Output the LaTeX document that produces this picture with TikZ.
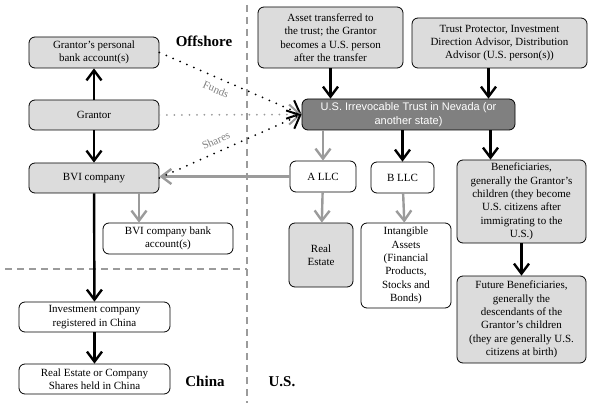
\documentclass[tikz,border=0pt]{standalone}
\usepackage{xcolor}
\usepackage{fontspec}
\setmainfont{Liberation Serif}
\newfontfamily\trustfont{Liberation Sans}
\usetikzlibrary{arrows.meta}
\definecolor{boxgray}{RGB}{220,220,220}
\definecolor{trustgray}{RGB}{128,128,128}
\definecolor{linegray}{RGB}{155,155,155}

\tikzset{
  box/.style={draw=black, line width=0.8pt, rounded corners=6pt, fill=boxgray, align=center, inner sep=2pt, font=\fontsize{11}{13.4}\selectfont},
  whitebox/.style={box, fill=white},
  trustbox/.style={box, fill=trustgray, text=white, font=\trustfont\fontsize{11}{13.4}\selectfont},
  region/.style={font=\bfseries\fontsize{15}{17}\selectfont},
  blackarrow/.style={draw=black, line width=2.4pt, -{Straight Barb[length=10pt,width=15pt]}},
  grayarrow/.style={blackarrow, draw=linegray},
  dotarrow/.style={draw=black, line width=2pt, dash pattern=on 0pt off 7.5pt, line cap=round, -{Straight Barb[length=11pt,width=20pt]}},
  flowlabel/.style={text=gray, font=\fontsize{11}{13}\selectfont, sloped},
  divider/.style={draw=linegray, line width=2pt, dash pattern=on 7pt off 5pt}
}

\begin{document}
\begin{tikzpicture}[x=1pt, y=-1pt]
\useasboundingbox (0,0) rectangle (593,403);

% region borders
\draw[divider] (247,5) -- (247,403);
\draw[divider] (5,269) -- (247,269);
\node[region] (offshore) at (204,41) {Offshore};
\node[region] (china) at (205,381) {China};
\node[region] (us) at (282,382) {U.S.};

% offshore side
\node[box, minimum width=130pt, minimum height=31pt] (gbank) at (94,52.5) {Grantor's personal\\bank account(s)};
\node[box, minimum width=130pt, minimum height=30pt] (grantor) at (94,115) {Grantor};
\node[box, minimum width=130pt, minimum height=30pt] (bvi) at (94,178) {BVI company};
\node[whitebox, minimum width=130pt, minimum height=31pt] (bvibank) at (168,238.5) {BVI company bank\\account(s)};

% china side
\node[whitebox, minimum width=151pt, minimum height=30pt] (invest) at (94.5,317) {Investment company\\registered in China};
\node[whitebox, minimum width=151pt, minimum height=30pt] (realcn) at (94.5,379) {Real Estate or Company\\Shares held in China};

% u.s. side
\node[box, minimum width=145pt, minimum height=61pt] (asset) at (330.5,37.5) {Asset transferred to\\the trust; the Grantor\\becomes a U.S. person\\after the transfer};
\node[box, minimum width=175pt, minimum height=50pt] (protector) at (499.5,43) {Trust Protector, Investment\\Direction Advisor, Distribution\\Advisor (U.S. person(s))};
\node[trustbox, minimum width=213pt, minimum height=31pt] (trust) at (408.5,114.5) {U.S. Irrevocable Trust in Nevada (or\\another state)};
\node[whitebox, minimum width=66pt, minimum height=31pt] (allc) at (323,176.5) {A LLC};
\node[whitebox, minimum width=63pt, minimum height=31pt] (bllc) at (402.5,177.5) {B LLC};
\node[box, minimum width=129pt, minimum height=83pt] (benef) at (521.5,201.5) {Beneficiaries,\\generally the Grantor's\\children (they become\\U.S. citizens after\\immigrating to the\\U.S.)};
\node[box, minimum width=64pt, minimum height=64pt] (realus) at (321,255) {Real\\Estate};
\node[whitebox, minimum width=90pt, minimum height=85pt] (intang) at (406,265.5) {Intangible\\Assets\\(Financial\\Products,\\Stocks and\\Bonds)};
\node[box, minimum width=129pt, minimum height=87pt] (future) at (521.5,319.5) {Future Beneficiaries,\\generally the\\descendants of the\\Grantor's children\\(they are generally U.S.\\citizens at birth)};

% offshore and china arrows
\draw[blackarrow] (grantor) -- (gbank);
\draw[blackarrow] (grantor) -- (bvi);
\draw[blackarrow] (bvi) -- (invest);
\draw[blackarrow] (invest) -- (realcn);
\draw[grayarrow] ([xshift=45pt]bvi.south) -- ([xshift=45pt]bvi.south |- bvibank.north);
\draw[grayarrow] (allc.west) -- (allc.west -| bvi.east);

% flows into the trust
\draw[dotarrow] (gbank.east) -- node[flowlabel, below=3pt, pos=0.43] {Funds} (trust.west);
\draw[dotarrow, draw=linegray] (grantor.east) -- (trust.west);
\draw[dotarrow] (bvi.east) -- node[flowlabel, above=3pt, pos=0.43] {Shares} (trust.west);

% u.s. arrows
\draw[blackarrow] (asset) -- (asset |- trust.north);
\draw[blackarrow] ([xshift=-11pt]protector.south) -- ([xshift=-11pt]protector.south |- trust.north);
\draw[grayarrow] (trust.south -| allc) -- (allc);
\draw[blackarrow] (trust.south -| bllc) -- (bllc);
\draw[blackarrow] ([xshift=-31pt]benef.north |- trust.south) -- ([xshift=-31pt]benef.north);
\draw[blackarrow] (benef) -- (future);
\draw[grayarrow] (allc) -- (realus);
\draw[grayarrow] (bllc) -- (intang);
\end{tikzpicture}
\end{document}
